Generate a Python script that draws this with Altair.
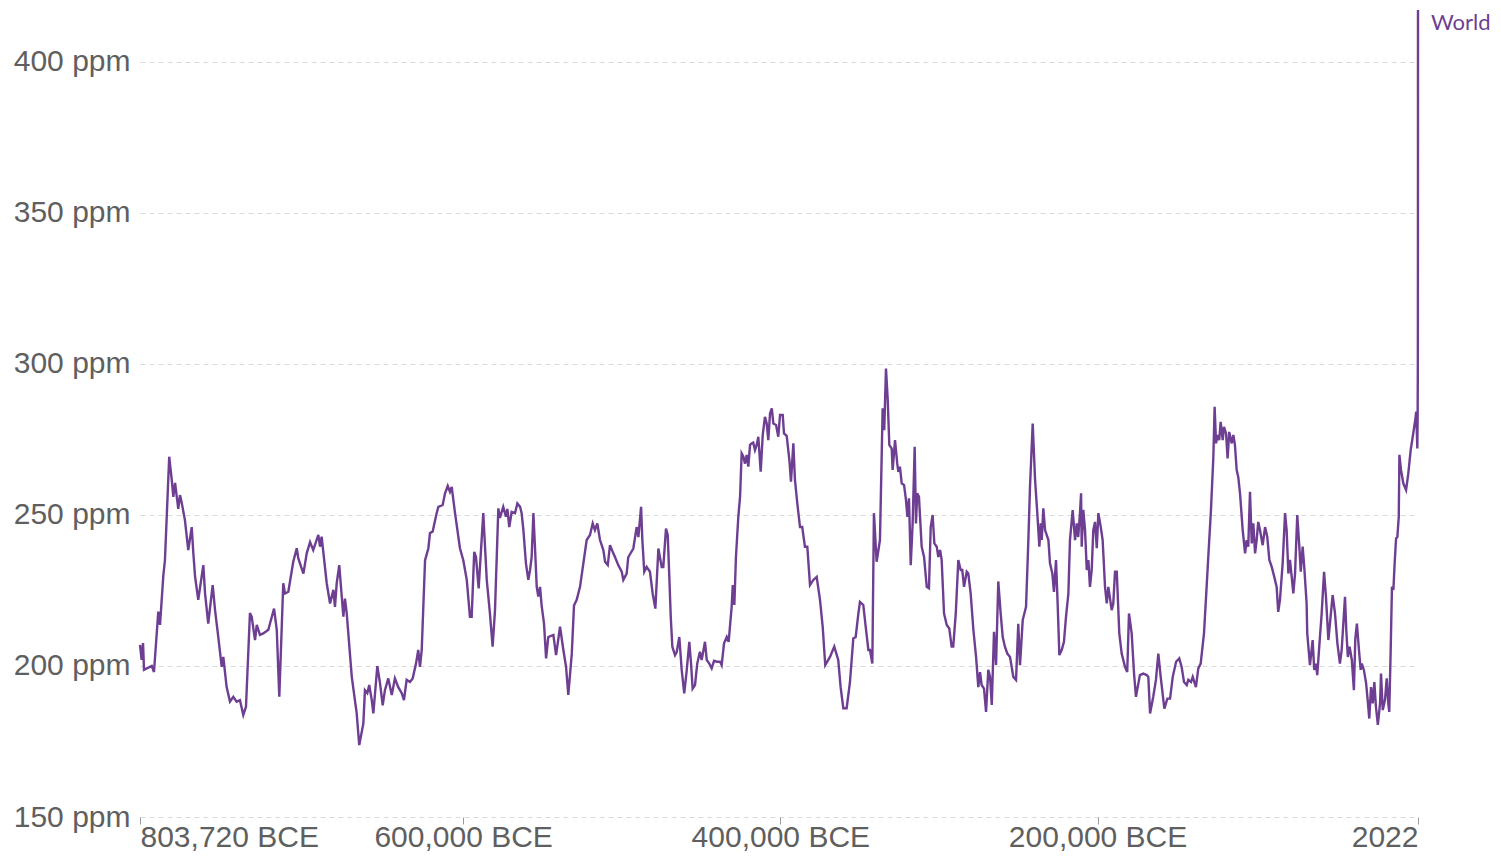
import altair as alt
import pandas as pd

# Ice-core record, thousands of years relative to year 0 (negative = BCE)
ice_kyr = [
    -803.7, -802.7, -801.8, -801.2, -796.3, -794.9, -792.2, -791.1, -789.0, -788.0,
    -785.3, -783.7, -782.7, -781.6, -779.6, -778.5, -777.4, -775.4, -773.3, -771.1,
    -770.1, -769.0, -767.0, -763.8, -762.7, -760.7, -757.9, -756.4, -754.4, -752.2,
    -751.2, -749.1, -747.0, -744.9, -742.8, -740.7, -738.6, -736.9, -734.4, -733.3,
    -731.2, -730.1, -728.1, -726.0, -722.8, -721.8, -719.2, -717.5, -715.9, -713.4,
    -712.3, -710.2, -707.1, -704.9, -703.9, -700.7, -698.6, -696.5, -694.5, -691.3,
    -690.2, -689.2, -686.0, -683.9, -681.8, -680.8, -679.7, -678.1, -675.5, -674.5,
    -673.4, -670.2, -667.1, -665.5, -662.9, -661.9, -660.4, -659.2, -657.6, -656.6,
    -654.1, -652.4, -650.7, -649.3, -647.2, -645.0, -643.0, -640.9, -638.7, -637.3,
    -635.6, -633.5, -631.8, -629.7, -628.3, -627.2, -626.1, -624.0, -621.9, -620.9,
    -619.2, -616.7, -615.6, -612.9, -611.4, -609.7, -608.3, -607.2, -605.1, -602.0,
    -599.9, -597.7, -595.7, -594.6, -593.0, -591.9, -590.2, -587.3, -585.1, -583.1,
    -581.4, -579.9, -577.8, -576.8, -574.7, -573.0, -572.1, -570.9, -569.4, -567.3,
    -565.8, -564.1, -563.1, -562.0, -560.4, -558.9, -557.8, -556.8, -555.7, -554.7,
    -553.6, -552.6, -551.5, -550.5, -549.0, -547.7, -546.3, -543.1, -541.4, -538.9,
    -536.8, -535.1, -533.7, -531.5, -530.1, -528.4, -526.3, -524.2, -522.1, -520.0,
    -518.3, -516.9, -515.4, -513.7, -511.6, -510.5, -508.8, -507.4, -505.3, -504.2,
    -502.2, -500.0, -499.0, -496.9, -495.9, -492.7, -490.6, -489.5, -487.8, -487.0,
    -485.8, -484.3, -482.2, -480.5, -478.8, -476.9, -474.8, -473.8, -472.1, -471.0,
    -470.0, -469.1, -468.1, -466.4, -465.3, -463.7, -462.2, -460.6, -459.0, -457.4,
    -456.3, -455.3, -453.8, -452.4, -450.7, -449.6, -447.5, -446.4, -444.8, -443.3,
    -441.8, -440.1, -438.0, -437.0, -435.5, -433.8, -432.6, -430.7, -430.0, -429.0,
    -428.0, -426.5, -425.4, -424.4, -423.3, -422.3, -421.2, -420.2, -419.1, -418.1,
    -417.1, -416.0, -414.9, -413.9, -413.3, -412.4, -411.1, -409.7, -408.6, -407.6,
    -406.5, -405.4, -404.4, -402.7, -401.3, -400.2, -398.5, -397.7, -396.0, -394.3,
    -393.3, -391.8, -390.8, -389.3, -387.6, -386.2, -384.5, -383.0, -381.3, -379.2,
    -377.1, -375.0, -373.3, -371.7, -368.7, -366.0, -363.5, -362.0, -360.3, -358.2,
    -356.1, -354.0, -352.5, -350.8, -349.8, -347.7, -346.2, -344.5, -343.5, -342.0,
    -341.0, -339.3, -337.2, -335.5, -334.5, -333.4, -332.3, -331.3, -329.8, -329.2,
    -327.7, -326.3, -325.6, -324.6, -323.5, -322.0, -320.8, -319.9, -318.9, -317.8,
    -316.6, -315.3, -314.5, -313.7, -312.6, -310.9, -309.4, -307.7, -306.3, -305.2,
    -304.0, -302.9, -301.4, -300.4, -299.3, -298.3, -296.8, -295.1, -293.5, -292.0,
    -291.0, -289.4, -287.8, -286.3, -285.3, -284.2, -282.5, -281.5, -280.0, -278.3,
    -276.6, -275.2, -274.1, -273.1, -271.6, -270.3, -268.9, -267.8, -266.7, -265.3,
    -264.0, -262.6, -261.1, -259.8, -258.4, -256.9, -255.2, -253.1, -251.4, -250.0,
    -248.9, -247.2, -245.1, -243.7, -242.6, -240.9, -239.4, -238.0, -236.7, -235.8,
    -235.2, -234.2, -233.1, -231.0, -230.0, -228.5, -227.5, -226.2, -225.1, -224.1,
    -222.6, -221.2, -219.9, -218.4, -217.4, -215.7, -214.2, -213.1, -212.2, -211.1,
    -210.4, -210.0, -209.0, -207.9, -206.8, -205.8, -204.8, -203.7, -202.7, -201.6,
    -200.5, -199.5, -198.0, -196.8, -195.3, -194.2, -193.2, -191.1, -190.1, -189.0,
    -187.9, -186.3, -184.8, -182.7, -181.3, -180.2, -178.5, -177.0, -175.8, -174.7,
    -173.3, -171.2, -169.0, -168.0, -166.9, -164.9, -163.2, -161.7, -160.2, -158.9,
    -157.9, -156.0, -154.3, -152.6, -150.5, -148.5, -147.0, -145.5, -143.8, -142.8,
    -141.1, -140.0, -138.0, -136.5, -135.0, -132.9, -131.6, -130.2, -128.5, -127.0,
    -126.2, -125.3, -124.3, -123.3, -122.4, -121.1, -120.3, -119.0, -118.0, -117.0,
    -115.4, -114.4, -113.4, -112.3, -111.3, -110.2, -108.5, -107.0, -106.0, -105.0,
    -103.9, -102.8, -101.8, -100.7, -99.7, -98.7, -97.6, -95.9, -94.4, -93.0,
    -91.7, -90.2, -88.6, -87.1, -86.1, -85.0, -83.3, -81.8, -80.8, -79.7,
    -78.7, -77.6, -76.6, -75.5, -74.1, -72.8, -71.9, -70.7, -69.7, -68.2,
    -67.8, -66.1, -64.4, -63.4, -62.3, -61.5, -59.8, -58.7, -57.2, -56.0,
    -54.5, -53.5, -51.8, -50.3, -48.8, -47.2, -46.1, -44.0, -43.2, -42.2,
    -41.1, -39.7, -38.4, -37.5, -36.5, -35.2, -34.1, -33.4, -32.1, -30.7,
    -29.7, -28.7, -27.6, -26.5, -25.5, -24.5, -23.3, -21.9, -21.3, -20.2,
    -18.8, -17.7, -16.7, -16.1, -15.2, -14.4, -13.5, -12.7, -11.8, -11.0,
    -10.1, -9.7, -8.7, -7.2, -5.5, -4.1, -2.6, -1.3, -0.5,
]

ice_ppm = [
    207.0, 202.0, 207.6, 198.7, 200.0, 198.0, 218.0, 213.6, 230.0, 235.0,
    269.3, 261.6, 256.0, 260.6, 252.0, 256.6, 254.0, 248.3, 238.4, 246.0,
    237.4, 229.6, 221.9, 233.4, 224.0, 214.0, 226.8, 218.5, 209.7, 199.7,
    203.0, 193.0, 188.2, 189.8, 188.2, 188.7, 183.8, 186.5, 217.5, 216.3,
    208.6, 213.6, 210.3, 210.8, 212.0, 214.0, 219.0, 212.0, 189.8, 227.4,
    224.0, 224.6, 234.5, 239.0, 235.6, 230.6, 237.3, 241.0, 238.4, 243.4,
    239.5, 242.8, 227.4, 220.7, 225.2, 219.6, 227.4, 233.4, 216.3, 222.3,
    217.5, 196.4, 184.3, 173.8, 181.0, 192.0, 191.0, 193.7, 188.7, 184.3,
    200.0, 194.3, 187.0, 192.0, 195.9, 190.4, 195.9, 193.0, 191.0, 188.7,
    195.4, 194.7, 195.9, 200.8, 205.3, 199.7, 205.3, 235.0, 239.0, 244.0,
    244.5, 250.6, 252.7, 253.3, 257.2, 259.6, 257.7, 259.3, 250.6, 239.0,
    235.0, 228.5, 216.3, 216.3, 237.8, 236.1, 225.7, 250.6, 228.5, 217.4,
    206.4, 218.5, 252.2, 249.0, 252.7, 249.4, 252.0, 246.0, 251.0, 250.6,
    253.8, 252.7, 250.6, 245.0, 234.0, 228.5, 231.8, 236.0, 250.6, 239.4,
    226.2, 223.0, 226.2, 220.0, 214.0, 202.5, 209.6, 210.3, 203.6, 213.0,
    205.3, 199.7, 190.4, 204.0, 220.0, 221.9, 226.2, 234.0, 241.7, 243.4,
    247.2, 245.0, 247.2, 241.7, 238.4, 234.5, 233.4, 240.0, 237.3, 236.0,
    233.4, 231.2, 228.5, 230.6, 236.0, 238.9, 246.0, 242.7, 252.7, 241.7,
    231.2, 232.8, 231.2, 224.0, 219.0, 238.9, 232.8, 232.8, 245.5, 243.4,
    229.5, 216.3, 206.4, 203.6, 204.7, 209.6, 198.7, 190.9, 198.7, 208.0,
    200.8, 192.5, 193.7, 200.8, 204.7, 202.0, 208.0, 202.0, 200.8, 199.2,
    201.7, 201.4, 201.4, 200.3, 207.5, 209.6, 208.0, 219.6, 226.8, 220.2,
    236.0, 249.4, 256.0, 270.4, 269.3, 267.0, 269.9, 266.0, 273.2, 273.7,
    274.0, 271.5, 273.2, 275.9, 271.5, 264.3, 276.5, 282.5, 280.3, 274.8,
    283.6, 285.3, 280.3, 279.8, 275.9, 283.1, 283.1, 277.0, 276.2, 268.2,
    261.0, 273.7, 261.6, 253.8, 246.0, 246.0, 239.5, 239.5, 226.8, 228.5,
    229.5, 221.9, 213.0, 200.3, 203.0, 206.4, 202.0, 193.0, 186.0, 186.0,
    194.7, 209.1, 209.6, 217.4, 221.2, 220.2, 213.0, 205.3, 205.3, 200.8,
    250.6, 234.5, 241.7, 285.3, 278.1, 298.5, 288.1, 273.2, 272.0, 264.9,
    274.8, 267.0, 264.3, 266.0, 260.5, 259.9, 255.0, 249.4, 255.5, 233.4,
    247.2, 272.6, 247.2, 257.2, 256.0, 239.5, 236.1, 226.2, 225.7, 246.0,
    250.0, 240.6, 239.5, 236.1, 238.4, 235.1, 217.4, 213.6, 212.4, 206.4,
    206.4, 217.4, 235.1, 231.8, 231.8, 226.2, 231.2, 230.6, 224.0, 212.0,
    203.0, 193.0, 198.0, 193.7, 192.5, 184.8, 198.7, 196.4, 187.1, 211.3,
    200.3, 228.0, 217.4, 209.6, 206.4, 204.1, 203.0, 196.4, 195.4, 214.0,
    200.3, 215.2, 219.6, 240.6, 259.3, 280.3, 261.6, 250.6, 239.5, 247.2,
    241.7, 252.2, 245.0, 241.7, 234.0, 230.6, 224.5, 235.1, 219.6, 203.6,
    205.3, 208.0, 216.3, 224.0, 241.7, 251.6, 241.7, 247.2, 242.7, 250.6,
    257.2, 239.5, 251.7, 245.0, 231.8, 235.1, 226.2, 231.8, 245.0, 247.7,
    239.0, 250.6, 246.0, 241.7, 226.2, 220.7, 226.2, 218.5, 220.7, 231.2,
    231.2, 210.8, 204.1, 199.7, 198.0, 217.4, 210.8, 197.5, 189.8, 193.0,
    197.0, 197.5, 197.0, 196.4, 184.3, 189.8, 195.4, 204.1, 196.4, 190.4,
    185.9, 189.2, 189.2, 196.4, 201.4, 202.5, 199.7, 194.7, 193.7, 195.4,
    194.7, 196.4, 193.0, 199.2, 200.8, 210.8, 222.9, 236.1, 251.7, 269.3,
    285.8, 273.7, 276.5, 274.8, 280.8, 274.8, 279.2, 277.0, 268.7, 277.5,
    273.7, 276.5, 273.2, 264.9, 262.6, 257.2, 245.0, 237.3, 241.7, 239.5,
    257.7, 240.6, 247.2, 237.3, 241.7, 247.7, 245.0, 240.0, 246.0, 242.7,
    235.1, 232.8, 229.5, 226.2, 217.9, 221.9, 234.0, 250.6, 245.0, 230.6,
    235.1, 229.5, 224.0, 230.6, 250.0, 239.5, 231.2, 239.5, 232.8, 220.7,
    210.8, 200.3, 208.6, 198.7, 200.8, 197.0, 209.6, 217.4, 231.2, 222.9,
    208.6, 214.0, 223.5, 217.4, 207.5, 200.8, 205.3, 222.9, 212.0, 203.0,
    206.4, 202.0, 192.0, 209.1, 214.0, 205.3, 198.7, 200.8, 198.7, 194.3,
    188.7, 182.6, 193.0, 187.6, 194.7, 186.5, 180.5, 187.6, 197.5, 185.4,
    188.7, 195.9, 187.6, 184.8, 205.3, 226.2, 225.2, 234.0, 242.2, 242.7,
    249.4, 269.9, 264.9, 260.4, 258.3, 263.7, 271.5, 275.9, 278.7,
]

# Common-era values (year CE)
ce_year = [300, 900, 1600, 1800, 1900, 1950, 1980, 2000, 2010, 2022]
ce_ppm = [281.5, 284.2, 272.0, 283.0, 296.0, 311.0, 339.0, 369.0, 389.0, 417.2]

x_tick_values = [-803720, -600000, -400000, -200000, 2022]
y_tick_values = [150, 200, 250, 300, 350, 400]
series_name = "World"

years = [round(k * 1000) for k in ice_kyr] + ce_year
values = ice_ppm + ce_ppm
df = pd.DataFrame({"year": years, "ppm": values, "entity": series_name})
last = df.tail(1)

PURPLE = "#6D3E91"
LABEL_COLOR = "#5f5f5f"
FONT = "Liberation Sans"

x_enc = alt.X(
    "year:Q",
    scale=alt.Scale(domain=[-803720, 2022], nice=False, zero=False),
    axis=alt.Axis(
        values=x_tick_values,
        title=None,
        grid=False,
        domain=False,
        ticks=True,
        tickSize=7,
        tickColor="#9a9a9a",
        tickWidth=1,
        labelPadding=-2,
        labelFlush=True,
        labelOverlap=False,
        labelFont=FONT,
        labelFontSize=30,
        labelColor=LABEL_COLOR,
        labelExpr="datum.value < 0 ? format(-datum.value, ',') + ' BCE' : format(datum.value, 'd')",
    ),
)
y_enc = alt.Y(
    "ppm:Q",
    scale=alt.Scale(domain=[150, 417.2], nice=False, zero=False),
    axis=alt.Axis(
        values=y_tick_values,
        title=None,
        grid=True,
        gridDash=[5, 4],
        gridColor="#dadada",
        gridWidth=1,
        domain=False,
        ticks=False,
        tickSize=0,
        labelPadding=10,
        labelFont=FONT,
        labelFontSize=30,
        labelColor=LABEL_COLOR,
        labelExpr="datum.value + ' ppm'",
    ),
)

line = alt.Chart(df).mark_line(color=PURPLE, strokeWidth=2.4).encode(x=x_enc, y=y_enc)

label = alt.Chart(last).mark_text(
    align="left", baseline="middle", dx=13, dy=13,
    font="Lato", fontSize=22, color=PURPLE,
).encode(x="year:Q", y="ppm:Q", text="entity:N")

chart = (
    alt.layer(line, label)
    .properties(
        width=1278,
        height=807,
        autosize=alt.AutoSizeParams(type="none"),
        padding={"left": 132, "top": 2, "right": 75, "bottom": 36},
        background="white",
    )
    .configure_view(stroke=None)
)

chart.save("out.html", embed_options={"renderer": "svg", "actions": False})
